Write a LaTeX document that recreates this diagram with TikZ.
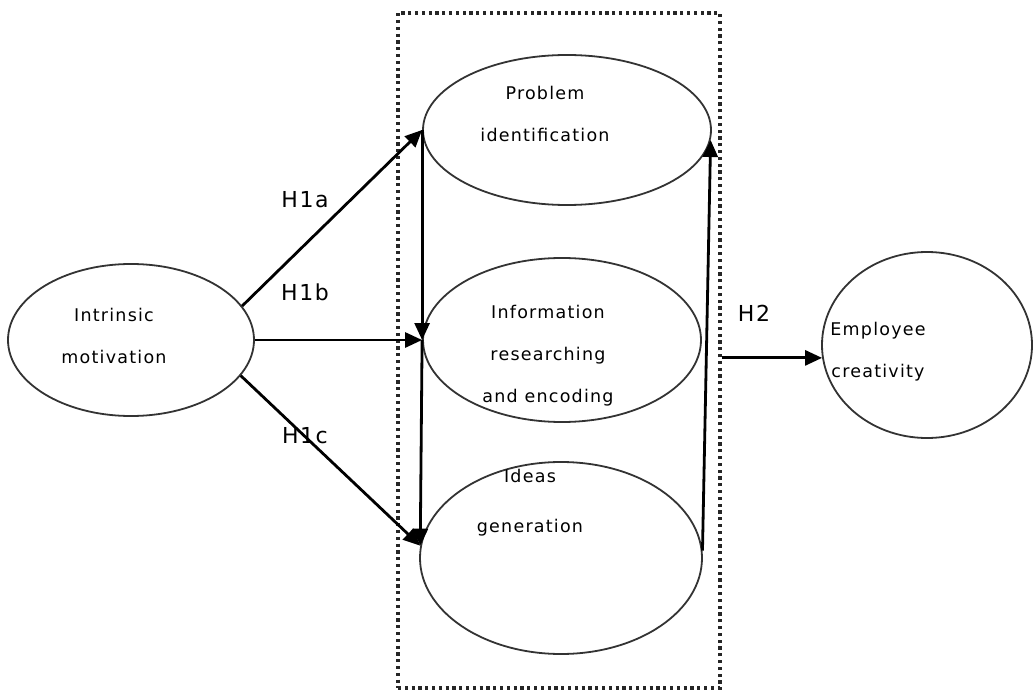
\documentclass[tikz,border=0pt]{standalone}
\usepackage{fontspec}
\setmainfont{DejaVu Sans}[LetterSpace=7]
\usetikzlibrary{arrows.meta,shapes.geometric}
\begin{document}
\begin{tikzpicture}[x=1pt,y=-1pt,
  bubble/.style={draw=black!80, line width=1.8pt, ellipse, inner sep=0pt},
  conn/.style={draw=black, line width=2.8pt, -{Triangle[length=17pt,width=15pt]}},
  lbl/.style={font=\fontsize{17.5}{42}\selectfont, align=center, anchor=base, text=black, inner sep=0pt},
  hyp/.style={font=\fontsize{22}{24}\selectfont, text=black, inner sep=0pt},
  frame/.style={draw=black!85, line width=3.2pt, dash pattern=on 3.2pt off 3.6pt}
]
\useasboundingbox (0,0) rectangle (1034,690);
\node[frame, minimum width=322pt, minimum height=675pt, inner sep=0pt] (box) at (559,350.5) {};
\node[bubble, minimum width=246pt, minimum height=152pt] (motiv) at (131,340) {};
\node[bubble, minimum width=288pt, minimum height=150pt] (prob) at (567,130) {};
\node[bubble, minimum width=278pt, minimum height=164pt] (info) at (562,340) {};
\node[bubble, minimum width=282pt, minimum height=192pt] (ideas) at (561,558) {};
\node[bubble, minimum width=210pt, minimum height=186pt] (emp) at (927,345) {};
% texts (anchor = baseline of last line)
\node[lbl] (tmotiv) at (114,363) {Intrinsic\\motivation};
\node[lbl] (tprob) at (545,142) {Problem\\identification};
\node[lbl] (tinfo) at (548,402) {Information\\researching\\and encoding};
\node[lbl] (tideas) at (530,532) {Ideas\\[8pt]generation};
\node[lbl] (temp) at (878,377) {Employee\\creativity};
% connectors
\draw[conn] (motiv.17) -- (prob.west);
\draw[conn] (motiv.east) -- (info.west);
\draw[conn] (motiv.-18) -- (ideas.175);
\draw[conn] (prob.west) -- (info.west);
\draw[conn] (info.west) -- (ideas.175);
\draw[conn] (ideas.3) -- (prob.-4);
\coordinate (h2s) at (box.east |- emp.187);
\draw[conn] (h2s) -- (emp.187);
% hypothesis labels
\node[hyp] (h1a) at (305,200) {H1a};
\node[hyp] (h1b) at (305,292) {H1b};
\node[hyp] (h1c) at (305,436) {H1c};
\node[hyp] (h2) at (754,313) {H2};
\end{tikzpicture}
\end{document}
